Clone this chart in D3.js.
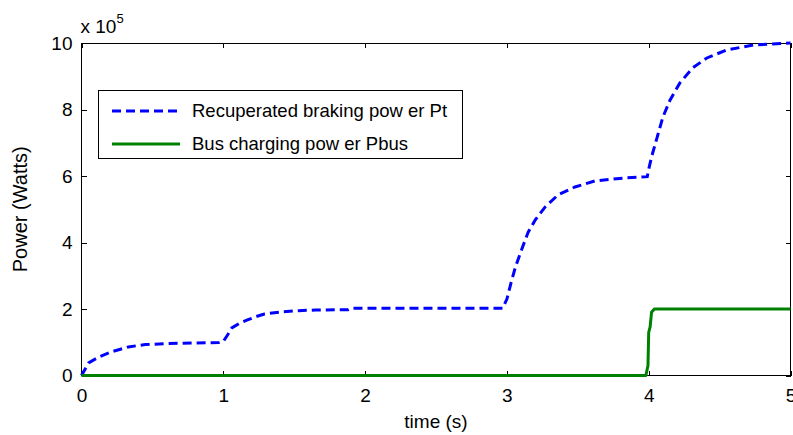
<!DOCTYPE html>
<html>
<head>
<meta charset="UTF-8">
<script src="https://cdn.jsdelivr.net/npm/d3@7/dist/d3.min.js"></script>
<style>
  body { margin: 0; background: #fff; }
  text { font-family: "Liberation Sans", Arial, sans-serif; fill: #000; }
  .axis path { display: none; }
  .axis line { stroke: #000; shape-rendering: crispEdges; }
</style>
</head>
<body>
<div id="chart"></div>
<script>
// recuperated braking power Pt (x 1e5 W)
var ptTime = [0, 0.05, 0.12, 0.21, 0.33, 0.45, 0.6, 0.8, 0.97, 1.0, 1.03, 1.06, 1.11, 1.17, 1.23, 1.29,
  1.41, 1.53, 1.65, 1.88, 1.9, 2.2, 2.6, 2.97, 3.0, 3.03, 3.06, 3.11, 3.15, 3.2, 3.27, 3.36, 3.48,
  3.62, 3.85, 3.99, 4.0, 4.02, 4.06, 4.1, 4.15, 4.22, 4.31, 4.41, 4.55, 4.74, 5.0];
var ptPower = [0, 0.38, 0.55, 0.71, 0.86, 0.93, 0.96, 0.98, 0.99, 1.02, 1.22, 1.43, 1.56, 1.67, 1.77, 1.85,
  1.91, 1.95, 1.97, 1.98, 2.02, 2.02, 2.02, 2.02, 2.3, 2.8, 3.26, 3.86, 4.31, 4.68, 5.07, 5.43, 5.67,
  5.85, 5.95, 5.98, 6.2, 6.57, 7.17, 7.77, 8.28, 8.8, 9.25, 9.55, 9.79, 9.94, 10.0];

// bus charging power Pbus (x 1e5 W)
var busTime = [0, 3.98, 3.995, 4.0, 4.01, 4.02, 4.04, 5.0];
var busPower = [0, 0, 0.3, 1.3, 1.46, 1.9, 2.0, 2.0];

var xTicks = [0, 1, 2, 3, 4, 5];
var yTicks = [0, 2, 4, 6, 8, 10];
var legendNames = ["Recuperated braking pow er Pt", "Bus charging pow er Pbus"];
var seriesColors = ["#0000ff", "#008000"];

var W = 793, H = 435;
var margin = {top: 43, right: 2.5, bottom: 59.5, left: 81.5};
var width = W - margin.left - margin.right,
    height = H - margin.top - margin.bottom;

var svg = d3.select("#chart").append("svg")
    .attr("width", W)
    .attr("height", H);

var g = svg.append("g")
    .attr("transform", "translate(" + margin.left + "," + margin.top + ")");

var x = d3.scaleLinear().domain([0, 5]).range([0, width]);
var y = d3.scaleLinear().domain([0, 10]).range([height, 0]);

// axes, ticks pointing inward
g.append("g").attr("class", "axis")
    .attr("transform", "translate(0," + height + ")")
    .call(d3.axisBottom(x).tickValues(xTicks).tickFormat(d3.format("d"))
      .tickSizeInner(-5).tickSizeOuter(0).tickPadding(13))
  .selectAll("text").style("font-size", "19px");

g.append("g").attr("class", "axis")
    .call(d3.axisLeft(y).tickValues(yTicks).tickFormat(d3.format("d"))
      .tickSizeInner(-5).tickSizeOuter(0).tickPadding(9))
  .selectAll("text").style("font-size", "19px");

g.append("g").attr("class", "axis")
    .call(d3.axisTop(x).tickValues(xTicks).tickSizeInner(-5).tickSizeOuter(0).tickFormat(""));

g.append("g").attr("class", "axis")
    .attr("transform", "translate(" + width + ",0)")
    .call(d3.axisRight(y).tickValues(yTicks).tickSizeInner(-5).tickSizeOuter(0).tickFormat(""));

g.append("rect")
    .attr("width", width)
    .attr("height", height)
    .attr("fill", "none")
    .attr("stroke", "#000")
    .attr("stroke-width", 1)
    .attr("shape-rendering", "crispEdges");

// lines
var line = d3.line()
    .x(function(d) { return x(d[0]); })
    .y(function(d) { return y(d[1]); });

g.append("path")
    .datum(d3.zip(ptTime, ptPower))
    .attr("fill", "none")
    .attr("stroke", seriesColors[0])
    .attr("stroke-width", 3)
    .attr("stroke-dasharray", "9,5")
    .attr("d", line);

g.append("path")
    .datum(d3.zip(busTime, busPower))
    .attr("fill", "none")
    .attr("stroke", seriesColors[1])
    .attr("stroke-width", 3)
    .attr("stroke-linejoin", "round")
    .attr("d", line);

// exponent label
var expo = svg.append("text")
    .attr("x", margin.left - 1)
    .attr("y", 33)
    .style("font-size", "19px");
expo.append("tspan").text("x 10");
expo.append("tspan").attr("dy", -10).style("font-size", "13px").text("5");

// axis titles
svg.append("text")
    .attr("x", margin.left + width / 2)
    .attr("y", 428)
    .attr("text-anchor", "middle")
    .style("font-size", "19px")
    .text("time (s)");

svg.append("text")
    .attr("transform", "translate(27," + (margin.top + height / 2) + ") rotate(-90)")
    .attr("text-anchor", "middle")
    .style("font-size", "20px")
    .text("Power (Watts)");

// legend
var legend = svg.append("g").attr("transform", "translate(98,90)");
legend.append("rect")
    .attr("width", 364)
    .attr("height", 68)
    .attr("fill", "#fff")
    .attr("stroke", "#000")
    .attr("shape-rendering", "crispEdges");

legendNames.forEach(function(name, i) {
  var ly = 21 + i * 33;
  legend.append("line")
      .attr("x1", 14).attr("x2", 82)
      .attr("y1", ly).attr("y2", ly)
      .attr("stroke", seriesColors[i])
      .attr("stroke-width", 3)
      .attr("stroke-dasharray", i === 0 ? "9,5" : null);
  legend.append("text")
      .attr("x", 94)
      .attr("y", ly)
      .attr("dy", "0.35em")
      .style("font-size", "18.5px")
      .text(name);
});
</script>
</body>
</html>
